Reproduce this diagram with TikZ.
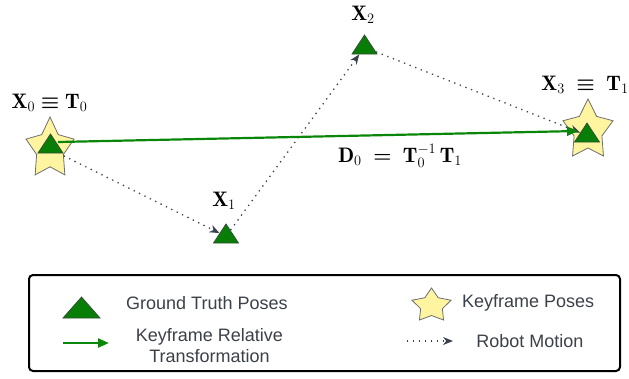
\documentclass[tikz,border=0pt]{standalone}
\usepackage{amsmath}
\usepackage{fontspec}
\newfontfamily\lab{Liberation Sans}
\usetikzlibrary{shapes.geometric,arrows.meta,calc}
\pgfdeclarelayer{starlayer}
\pgfdeclarelayer{linelayer}
\pgfsetlayers{starlayer,linelayer,main}
\definecolor{gtfill}{RGB}{8,125,8}
\definecolor{gtedge}{RGB}{50,80,50}
\definecolor{kfarrow}{RGB}{10,135,10}
\definecolor{starfill}{RGB}{255,244,160}
\definecolor{staredge}{RGB}{110,110,110}
\definecolor{motion}{RGB}{58,64,78}
\definecolor{txt}{RGB}{60,64,72}
\newcommand{\beq}{\mathrel{\boldsymbol{\equiv}}}
\newcommand{\beqs}{\mathrel{\boldsymbol{=}}}
\tikzset{
  gt/.style={isosceles triangle, isosceles triangle stretches, shape border rotate=90,
    minimum width=25pt, minimum height=19pt, inner sep=0pt, anchor=apex,
    fill=gtfill, draw=gtedge, line width=0.8pt},
  kf/.style={star, star points=5, star point ratio=1.8, inner sep=0pt,
    fill=starfill, draw=staredge, line width=0.8pt, transform shape},
  kfarr/.style={draw=kfarrow, line width=2.2pt, -{Triangle[length=11pt,width=9pt]}},
  motionarr/.style={draw=motion, line width=1.3pt, dash pattern=on 1.3pt off 4.7pt,
    -{Stealth[length=10pt,width=8pt,line width=0pt]}},
  mathlab/.style={font=\fontsize{21}{24}\selectfont, inner sep=0pt},
  legtxt/.style={font=\lab\fontsize{18}{21}\selectfont, text=txt, inner sep=0pt, align=center},
}
\begin{document}
\begin{tikzpicture}[x=1pt,y=-1pt]
\useasboundingbox (0,0) rectangle (629,378);
% keyframe stars
\begin{pgfonlayer}{starlayer}
\begin{scope}[shift={(50,149)}, xscale=0.79]
  \node[kf, minimum size=64pt] (s0) at (0,0) {};
\end{scope}
\begin{scope}[shift={(588,130.5)}, xscale=0.835]
  \node[kf, minimum size=63pt] (s3) at (0,0) {};
\end{scope}
\end{pgfonlayer}
% ground truth poses
\node[gt] (t0) at (50.5,133) {};
\node[gt] (t1) at (226,223) {};
\node[gt] (t2) at (364.5,34) {};
\node[gt] (t3) at (587,122) {};
% labels
\node[mathlab] (l0) at (49.5,103) {$\mathbf{X}_0\beq\mathbf{T}_0$};
\node[mathlab] (l1) at (224,201) {$\mathbf{X}_1$};
\node[mathlab] (l2) at (363,15) {$\mathbf{X}_2$};
\node[mathlab] (l3) at (585,85) {$\mathbf{X}_3\;\beq\;\mathbf{T}_1$};
\node[mathlab] (ld) at (400,156) {$\mathbf{D}_0\;\beqs\;\mathbf{T}_0^{-1}\,\mathbf{T}_1$};
\begin{pgfonlayer}{linelayer}
% robot motion
\draw[motionarr] (s0) -- (t1);
\draw[motionarr] (t1) -- (t2);
\draw[motionarr] (t2) -- (t3);
% keyframe relative transformation
\draw[kfarr] ($(t0.apex)+(7.5,9)$) -- ($(t3.apex)+(-9,9)$);
\end{pgfonlayer}
% legend
\node[draw=black, line width=2pt, rounded corners=4pt, minimum width=591pt, minimum height=96pt, inner sep=0pt] (legend) at (324.5,323) {};
\node[gt, minimum width=37pt, minimum height=21pt] (lgt) at (81.5,296) {};
\node[legtxt, anchor=west] (lgtt) at (126,303) {Ground Truth Poses};
\coordinate (la0) at (63,343);
\coordinate (la1) at (109,343);
\draw[kfarr] (la0) -- (la1);
\node[legtxt] (lat) at (209.5,346) {Keyframe Relative\\Transformation};
\begin{scope}[shift={(431.5,305.7)}, xscale=1.16]
  \node[kf, minimum size=35.4pt] (lkf) at (0,0) {};
\end{scope}
\node[legtxt, anchor=west] (lkft) at (462,303) {Keyframe Poses};
\coordinate (lm0) at (407,341);
\coordinate (lm1) at (453,341);
\draw[motionarr] (lm0) -- (lm1);
\node[legtxt] (lmt) at (530,341) {Robot Motion};
\end{tikzpicture}
\end{document}
